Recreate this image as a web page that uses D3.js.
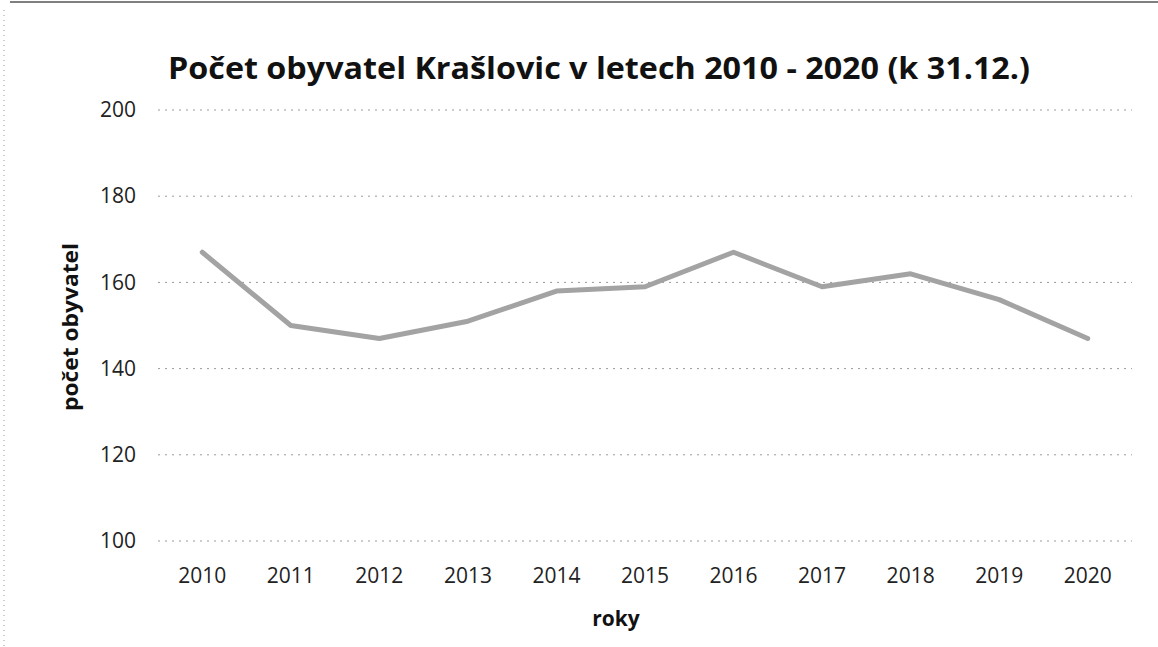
<!DOCTYPE html>
<html>
<head>
<meta charset="utf-8">
<script src="https://cdn.jsdelivr.net/npm/d3@7"></script>
<style>
body { margin:0; background:#fff; }
svg { display:block; font-family: "Open Sans", "Noto Sans", sans-serif; }
</style>
</head>
<body>
<svg id="chart"></svg>
<script>
// data
const years = ["2010","2011","2012","2013","2014","2015","2016","2017","2018","2019","2020"];
const population = [167, 150, 147, 151, 158, 159, 167, 159, 162, 156, 147];
const yTicks = [100, 120, 140, 160, 180, 200];

const width = 1158, height = 647;
const margin = {top: 110, right: 26, bottom: 106, left: 158};

let svg = d3.select("#chart").attr("width", width).attr("height", height);

// scan-like frame
svg.append("line")
.attr("x1", 10).attr("x2", width).attr("y1", 2).attr("y2", 2)
.attr("stroke", "#555").attr("stroke-width", 1.5);
svg.append("line")
.attr("x1", 4).attr("x2", 4).attr("y1", 10).attr("y2", height)
.attr("stroke", "#999").attr("stroke-dasharray", "1 4");

let x = d3.scaleBand().domain(years).range([margin.left, width - margin.right]);
let y = d3.scaleLinear().domain([100, 200]).range([height - margin.bottom, margin.top]);

// grid
svg.append("g")
.selectAll("line")
.data(yTicks)
.enter()
.append("line")
.attr("x1", margin.left)
.attr("x2", width - margin.right)
.attr("y1", d=>y(d))
.attr("y2", d=>y(d))
.attr("stroke", "#9a9a9a")
.attr("stroke-width", 1)
.attr("stroke-dasharray", "2 5");

// y axis
let yAxis = svg.append("g")
.attr("transform", `translate(${margin.left},0)`)
.call(d3.axisLeft(y).tickValues(yTicks).tickSize(0).tickPadding(22));
yAxis.select(".domain").remove();
yAxis.selectAll("text").attr("font-size", 21).attr("fill", "#222").attr("font-family", "Open Sans");

// x axis
let xAxis = svg.append("g")
.attr("transform", `translate(0,${height - margin.bottom})`)
.call(d3.axisBottom(x).tickSize(0).tickPadding(27));
xAxis.select(".domain").remove();
xAxis.selectAll("text").attr("font-size", 21).attr("fill", "#222").attr("font-family", "Open Sans");

// line
let line = d3.line()
.x((d,i)=>x(years[i]) + x.bandwidth()/2)
.y(d=>y(d));

svg.append("path")
.datum(population)
.attr("d", line)
.attr("fill", "none")
.attr("stroke", "#a3a3a3")
.attr("stroke-width", 5)
.attr("stroke-linejoin", "round")
.attr("stroke-linecap", "round");

// title
svg.append("text")
.attr("x", 599)
.attr("y", 79)
.attr("text-anchor", "middle")
.attr("font-size", 30)
.attr("font-weight", "bold")
.attr("fill", "#111")
.attr("textLength", 862)
.attr("lengthAdjust", "spacingAndGlyphs")
.text("Počet obyvatel Krašlovic v letech 2010 - 2020 (k 31.12.)");

// axis titles
svg.append("text")
.attr("transform", "translate(78,327) rotate(-90)")
.attr("text-anchor", "middle")
.attr("font-size", 21)
.attr("font-weight", "bold")
.attr("fill", "#111")
.attr("textLength", 168)
.attr("lengthAdjust", "spacingAndGlyphs")
.text("počet obyvatel");

svg.append("text")
.attr("x", 616)
.attr("y", 626)
.attr("text-anchor", "middle")
.attr("font-size", 21)
.attr("font-weight", "bold")
.attr("fill", "#111")
.text("roky");
</script>
</body>
</html>
